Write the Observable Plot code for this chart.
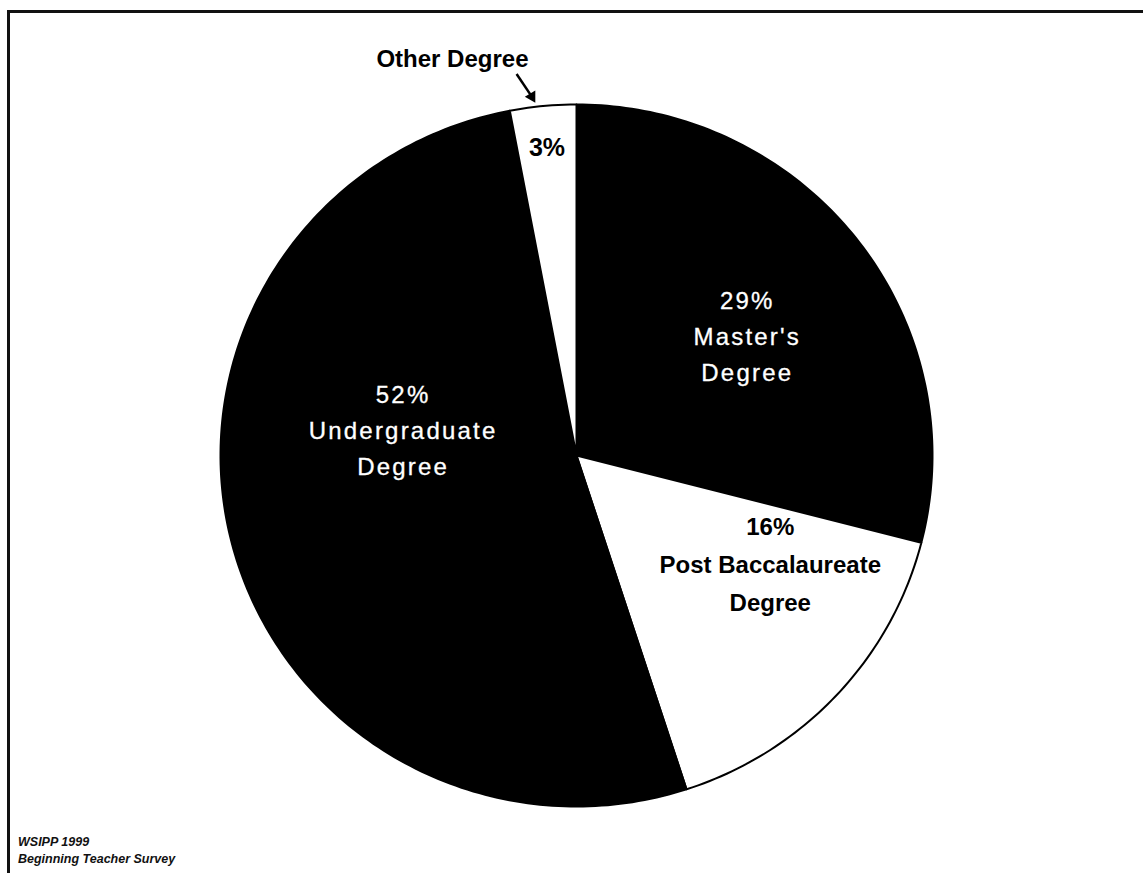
<!DOCTYPE html>
<html>
<head>
<meta charset="utf-8">
<script src="https://cdn.jsdelivr.net/npm/d3@7"></script>
<script src="https://cdn.jsdelivr.net/npm/@observablehq/plot@0.6"></script>
<style>
  html, body { margin: 0; padding: 0; background: #fff; }
  #wrap { position: relative; width: 1143px; height: 873px; overflow: hidden; }
  #frame { position: absolute; left: 7px; top: 10px; right: -10px; bottom: -10px;
           border-left: 3px solid #111; border-top: 3px solid #111; }
  #chart { position: absolute; left: 0; top: 0; }
  #caption { position: absolute; left: 18px; top: 834px; font-family: "Liberation Sans", Arial, sans-serif;
             font-style: italic; font-weight: bold; font-size: 12.5px; line-height: 17px; color: #111; }
</style>
</head>
<body>
<div id="wrap">
  <div id="frame"></div>
  <div id="chart"></div>
  <div id="caption">WSIPP 1999<br>Beginning Teacher Survey</div>
</div>
<script>
// ---- data ----
const categories = ["Master's Degree", "Post Baccalaureate Degree", "Undergraduate Degree", "Other Degree"];
const shares = [29, 16, 52, 3];
const labelTexts = ["29%\nMaster's\nDegree", "16%\nPost Baccalaureate\nDegree", "52%\nUndergraduate\nDegree", "3%"];
const calloutText = "Other Degree";

// ---- layout (not data) ----
const sliceColors = ["#000", "#fff", "#000", "#fff"];
const labelRadius = [0.6, 0.5, 0.5, 0.88];
const labelDx = [2, 64, -1, 0];
const labelDy = [7, -15, -72, -5];

const pie = d3.pie().sort(null).value(d => d)(shares);
const deg = Math.PI / 180;

// polygon points for each slice
const slicePts = [];
pie.forEach((p, i) => {
  slicePts.push({cat: categories[i], x: 0, y: 0});
  const n = Math.max(8, Math.ceil((p.endAngle - p.startAngle) / deg));
  for (let k = 0; k <= n; k++) {
    const a = p.startAngle + (p.endAngle - p.startAngle) * k / n;
    slicePts.push({cat: categories[i], x: Math.sin(a), y: Math.cos(a)});
  }
});

const labels = pie.map((p, i) => {
  const a = (p.startAngle + p.endAngle) / 2;
  return {text: labelTexts[i], x: Math.sin(a) * labelRadius[i], y: Math.cos(a) * labelRadius[i],
          dark: sliceColors[i] === "#000", i};
});

// callout for the smallest slice
const other = pie[3];
const om = (other.startAngle + other.endAngle) / 2;
const polar = (a, r) => ({x: Math.sin(a) * r, y: Math.cos(a) * r});
const arrowStart = polar(om - 3.4 * deg, 1.10);
const arrowEnd = polar(om - 1.6 * deg, 1.03);
const calloutPos = polar(om, 1.135);

const font = "Liberation Sans, Arial, sans-serif";
const labelMarks = labels.map(d => Plot.text([d], {
  x: "x", y: "y", text: "text", dx: labelDx[d.i], dy: labelDy[d.i],
  fill: d.dark ? "#fff" : "#000",
  fontSize: d.dark ? 24 : (d.i === 3 ? 25 : 24),
  fontWeight: d.dark ? "normal" : "bold",
  lineHeight: d.dark ? 1.5 : 1.58,
  fontFamily: font,
  ariaDescription: d.dark ? "white-labels" : "black-labels"
}));

const plot = Plot.plot({
  width: 1143,
  height: 873,
  margin: 0,
  x: {domain: [-1, 1], range: [220, 932], axis: null},
  y: {domain: [-1, 1], range: [806, 104], axis: null},
  color: {domain: categories, range: sliceColors},
  marks: [
    Plot.line(slicePts, {x: "x", y: "y", z: "cat", fill: "cat", stroke: "#000", strokeWidth: 2,
                         strokeLinejoin: "round", curve: "linear-closed"}),
    ...labelMarks,
    Plot.text([calloutPos], {x: "x", y: "y", text: [calloutText], dx: -86, dy: 0,
      fill: "#000", fontSize: 24, fontWeight: "bold", fontFamily: font}),
    Plot.link([{x1: arrowStart.x, y1: arrowStart.y, x2: arrowEnd.x, y2: arrowEnd.y}],
      {x1: "x1", y1: "y1", x2: "x2", y2: "y2", stroke: "#000", strokeWidth: 2.5}),
    Plot.dot([arrowEnd], {x: "x", y: "y", symbol: "triangle", r: 4.5, fill: "#000", stroke: "none", rotate: 150})
  ]
});

// wider tracking on the white labels, as in the original
d3.select(plot).selectAll("g").filter(function() {
  return this.getAttribute("aria-description") === "white-labels";
}).style("letter-spacing", "2.2px").style("font-weight", "500").attr("stroke", "#fff").attr("stroke-width", 0.3);

document.getElementById("chart").appendChild(plot);
</script>
</body>
</html>
